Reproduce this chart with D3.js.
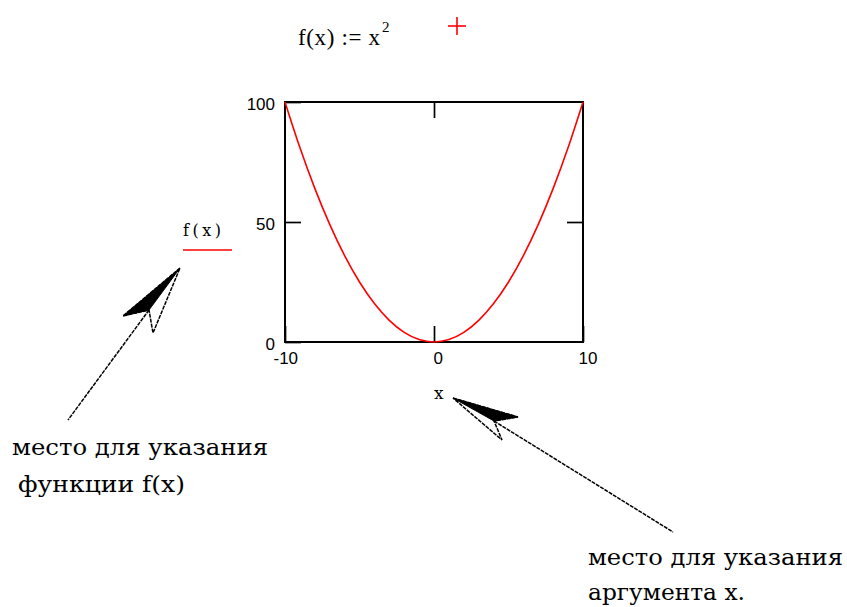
<!DOCTYPE html>
<html>
<head>
<meta charset="utf-8">
<script src="https://cdn.jsdelivr.net/npm/d3@7"></script>
<style>
  html, body { margin: 0; padding: 0; background: #fff; }
  svg { display: block; }
  .serif { font-family: "Liberation Serif", "Times New Roman", serif; }
  .slab { font-family: "DejaVu Serif", serif; }
</style>
</head>
<body>
<svg id="chart" width="847" height="607"></svg>
<script>
// f(x) = x^2 sampled at integer x
const xValues = [-10, -9, -8, -7, -6, -5, -4, -3, -2, -1, 0, 1, 2, 3, 4, 5, 6, 7, 8, 9, 10];
const fValues = [100, 81, 64, 49, 36, 25, 16, 9, 4, 1, 0, 1, 4, 9, 16, 25, 36, 49, 64, 81, 100];
const xTicks = [-10, 0, 10];
const yTicks = [0, 50, 100];
const xTickLabels = ["-10", "0", "10"];
const yTickLabels = ["0", "50", "100"];

const svg = d3.select("#chart");
svg.append("rect").attr("width", 847).attr("height", 607).attr("fill", "#fff");

const plot = { left: 285, right: 583, top: 102, bottom: 342 };
const x = d3.scaleLinear().domain([-10, 10]).range([plot.left, plot.right]);
const y = d3.scaleLinear().domain([0, 100]).range([plot.bottom, plot.top]);

// definition line above the plot
const title = svg.append("g").attr("class", "serif");
title.append("text")
  .attr("x", 298).attr("y", 45)
  .attr("font-size", 23)
  .attr("textLength", 82).attr("lengthAdjust", "spacing")
  .text("f(x) := x");
title.append("text")
  .attr("x", 382).attr("y", 32)
  .attr("font-size", 15)
  .text("2");

// red placeholder cross
const cross = svg.append("g").attr("stroke", "#ff0000").attr("stroke-width", 1.6);
cross.append("line").attr("x1", 448).attr("x2", 466).attr("y1", 26).attr("y2", 26);
cross.append("line").attr("x1", 457).attr("x2", 457).attr("y1", 17).attr("y2", 35);

// inward ticks on all four sides
const tickLen = 16;
const gx = svg.append("g")
  .attr("transform", `translate(0,${plot.bottom})`)
  .call(d3.axisBottom(x).tickValues(xTicks).tickSizeInner(-tickLen).tickSizeOuter(0).tickPadding(10)
    .tickFormat((d, i) => xTickLabels[i]));
const gy = svg.append("g")
  .attr("transform", `translate(${plot.left},0)`)
  .call(d3.axisLeft(y).tickValues(yTicks).tickSizeInner(-tickLen).tickSizeOuter(0).tickPadding(10)
    .tickFormat((d, i) => yTickLabels[i]));
const gr = svg.append("g")
  .attr("transform", `translate(${plot.right},0)`)
  .call(d3.axisRight(y).tickValues([50]).tickSizeInner(-tickLen).tickSizeOuter(0).tickFormat(""));
const gt = svg.append("g")
  .attr("transform", `translate(0,${plot.top})`)
  .call(d3.axisTop(x).tickValues([0]).tickSizeInner(-tickLen).tickSizeOuter(0).tickFormat(""));

[gx, gy, gr, gt].forEach(g => {
  g.select(".domain").remove();
  g.selectAll(".tick line").attr("stroke", "#000").attr("stroke-width", 1.7);
  g.selectAll(".tick text")
    .attr("font-family", "Liberation Sans, Arial, sans-serif")
    .attr("font-size", 17)
    .attr("fill", "#000");
});

// x labels start at their tick; the last one is pulled back inside
const xLabelShift = { "-10": -12, "0": -1, "10": -5 };
gx.selectAll(".tick text")
  .attr("text-anchor", "start")
  .attr("x", d => xLabelShift[String(d)]);
gy.selectAll(".tick text").attr("dy", "0.45em");

// frame
svg.append("rect")
  .attr("x", plot.left).attr("y", plot.top)
  .attr("width", plot.right - plot.left).attr("height", plot.bottom - plot.top)
  .attr("fill", "none").attr("stroke", "#000").attr("stroke-width", 2);

// curve
const line = d3.line()
  .x((d, i) => x(xValues[i]))
  .y(d => y(d))
  .curve(d3.curveNatural);
svg.append("path")
  .datum(fValues)
  .attr("d", line)
  .attr("fill", "none")
  .attr("stroke", "#ff0000")
  .attr("stroke-width", 1.6);

// trace legend to the left of the plot
svg.append("text")
  .attr("class", "slab")
  .attr("x", 183).attr("y", 236)
  .attr("font-size", 16)
  .attr("textLength", 38).attr("lengthAdjust", "spacing")
  .text("f(x)");
svg.append("line")
  .attr("x1", 183).attr("x2", 232).attr("y1", 250).attr("y2", 250)
  .attr("stroke", "#ff0000").attr("stroke-width", 1.6);

// argument label under the plot
svg.append("text")
  .attr("class", "slab")
  .attr("x", 434).attr("y", 399)
  .attr("font-size", 17)
  .text("x");

// pointer arrows
function pointer(tip, barb, notch, foot, tail) {
  const g = svg.append("g");
  g.append("path")
    .attr("d", d3.line()([tip, barb, notch]) + "Z")
    .attr("fill", "#000").attr("stroke", "#000").attr("stroke-width", 1);
  g.append("path")
    .attr("d", d3.line()([tip, barb, notch, foot]) + "Z")
    .attr("fill", "none").attr("stroke", "#000").attr("stroke-width", 1.5)
    .attr("stroke-dasharray", "4,1");
  g.append("path")
    .attr("d", d3.line()([notch, tail]))
    .attr("fill", "none").attr("stroke", "#000").attr("stroke-width", 1.5)
    .attr("stroke-dasharray", "4,1");
}
pointer([180, 268], [123, 316], [149, 310], [153, 333], [68, 420]);
pointer([453, 398], [518, 417], [494, 421], [502, 440], [673, 532]);

// captions
const captions = [
  { text: "место для указания", x: 12, y: 455, w: 256 },
  { text: "функции f(x)", x: 18, y: 492, w: 167 },
  { text: "место для указания", x: 588, y: 565, w: 255 },
  { text: "аргумента x.", x: 588, y: 600, w: 157 }
];
svg.append("g").attr("class", "slab")
  .selectAll("text")
  .data(captions)
  .join("text")
  .attr("x", d => d.x).attr("y", d => d.y)
  .attr("font-size", 22)
  .attr("textLength", d => d.w).attr("lengthAdjust", "spacingAndGlyphs")
  .text(d => d.text);
</script>
</body>
</html>
